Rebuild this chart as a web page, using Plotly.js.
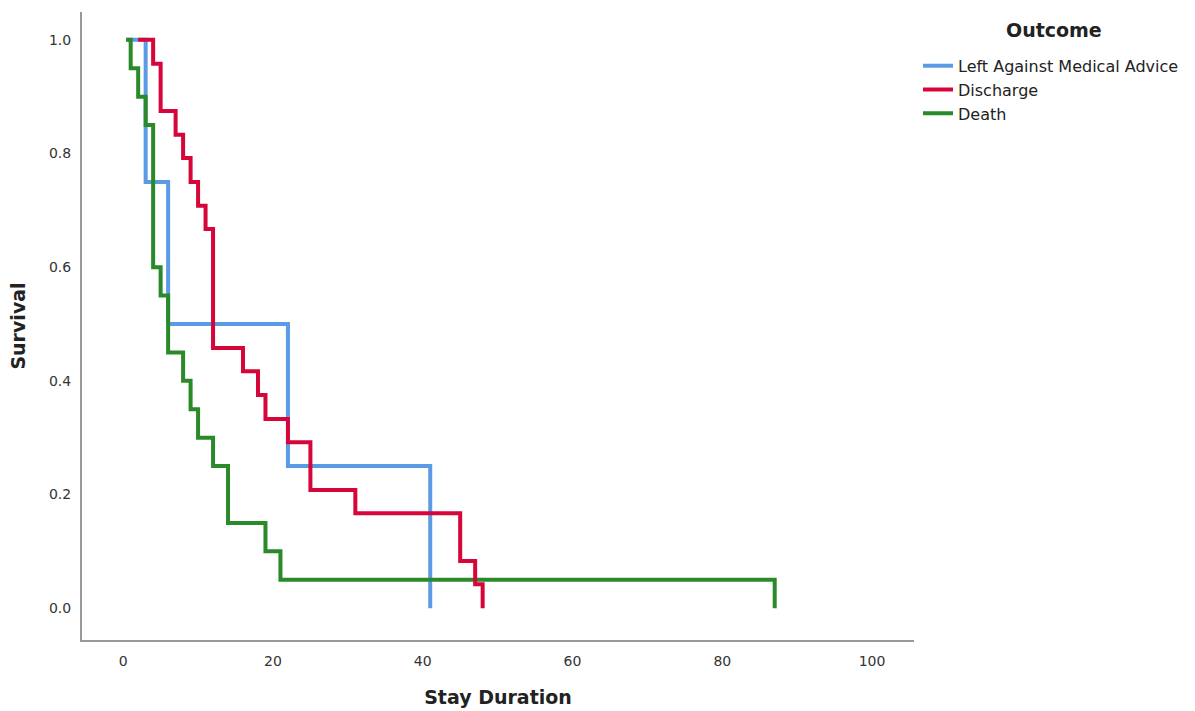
<!DOCTYPE html>
<html>
<head>
<meta charset="utf-8">
<script src="https://cdn.plot.ly/plotly-3.0.1.min.js"></script>
<style>html,body{margin:0;padding:0;background:#fff;}#chart{width:1195px;height:711px;}</style>
</head>
<body>
<div id="chart"></div>
<script>
// Kaplan-Meier step data
const lamaTime = [0.4, 3, 6, 22, 41];
const lamaSurv = [1.0, 0.75, 0.5, 0.25, 0.0];

const dischargeTime = [2, 4, 5, 7, 8, 9, 10, 11, 12, 16, 18, 19, 22, 25, 31, 45, 47, 48];
const dischargeSurv = [1.0, 0.958, 0.875, 0.833, 0.792, 0.75, 0.708, 0.667, 0.458, 0.417, 0.375, 0.333, 0.292, 0.208, 0.167, 0.083, 0.042, 0.0];

const deathTime = [0.4, 1, 2, 3, 4, 5, 6, 8, 9, 10, 12, 14, 19, 21, 87];
const deathSurv = [1.0, 0.95, 0.90, 0.85, 0.60, 0.55, 0.45, 0.40, 0.35, 0.30, 0.25, 0.15, 0.10, 0.05, 0.0];

const xTicks = [0, 20, 40, 60, 80, 100];
const yTicks = [0.0, 0.2, 0.4, 0.6, 0.8, 1.0];

const FONT = 'DejaVu Sans, Liberation Sans, Arial, sans-serif';

const traces = [
  {x: lamaTime, y: lamaSurv, name: 'Left Against Medical Advice', mode: 'lines',
   line: {shape: 'hv', color: '#5b9be6', width: 4}, legendrank: 1},
  {x: deathTime, y: deathSurv, name: 'Death', mode: 'lines',
   line: {shape: 'hv', color: '#2a8a2a', width: 4}, legendrank: 3},
  {x: dischargeTime, y: dischargeSurv, name: 'Discharge', mode: 'lines',
   line: {shape: 'hv', color: '#d6063a', width: 4}, legendrank: 2}
];

const layout = {
  width: 1195, height: 711,
  margin: {l: 82, r: 280, t: 12, b: 71},
  paper_bgcolor: '#fff', plot_bgcolor: '#fff',
  font: {family: FONT, color: '#333'},
  showlegend: true,
  legend: {
    x: 1.0036, y: 0.9414, xanchor: 'left', yanchor: 'top',
    font: {family: FONT, size: 16, color: '#222'},
    tracegroupgap: 0, itemwidth: 30
  },
  annotations: [{
    text: '<b>Outcome</b>', xref: 'paper', yref: 'paper',
    x: (1055 - 82) / 833, y: 1 - (30 - 12) / 628, xanchor: 'center', yanchor: 'middle',
    showarrow: false, font: {family: FONT, size: 19, color: '#222'}
  }],
  xaxis: {
    range: [-5.5, 105.6], tickvals: xTicks, ticktext: xTicks.map(String),
    showgrid: false, zeroline: false, showline: true, linecolor: '#999', linewidth: 2,
    ticks: 'outside', ticklen: 7, tickcolor: 'rgba(0,0,0,0)',
    tickfont: {family: FONT, size: 14, color: '#333'},
    title: {text: '<b>Stay Duration</b>', font: {family: FONT, size: 19, color: '#222'}, standoff: 23}
  },
  yaxis: {
    range: [-0.056, 1.049], tickvals: yTicks, ticktext: yTicks.map(v => v.toFixed(1)),
    showgrid: false, zeroline: false, showline: true, linecolor: '#999', linewidth: 2,
    ticks: 'outside', ticklen: 6, tickcolor: 'rgba(0,0,0,0)',
    tickfont: {family: FONT, size: 14, color: '#333'},
    title: {text: '<b>Survival</b>', font: {family: FONT, size: 19, color: '#222'}, standoff: 18}
  }
};

Plotly.newPlot('chart', traces, layout, {displayModeBar: false, staticPlot: true});
</script>
</body>
</html>
